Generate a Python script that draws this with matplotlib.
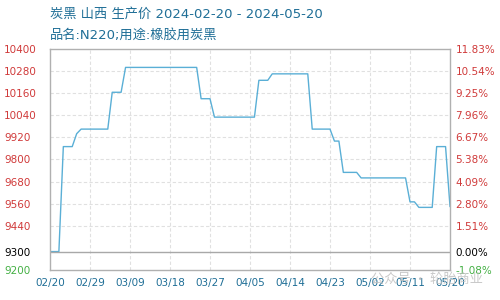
import pandas as pd
import matplotlib.pyplot as plt
import matplotlib.dates as mdates

plt.rcParams['font.family'] = ['DejaVu Sans']

# daily price, 2024-02-20 .. 2024-05-20
start = '2024-02-20'
prices = ([9300] * 3 + [9870] * 3 + [9940] + [9965] * 7 + [10165] * 3
          + [10300] * 17 + [10130] * 3 + [10030] * 10 + [10230] * 3
          + [10265] * 9 + [9965] * 5 + [9900] * 2 + [9730] * 4
          + [9700] * 11 + [9570] * 2 + [9540] * 4 + [9870] * 3 + [9545])
base = 9300
ytick_vals = [10400, 10280, 10160, 10040, 9920, 9800, 9680, 9560, 9440, 9300, 9200]
xtick_labels = ['02/20', '02/29', '03/09', '03/18', '03/27', '04/05',
                '04/14', '04/23', '05/02', '05/11', '05/20']

dates = pd.date_range(start, periods=len(prices), freq='D')
xticks = pd.date_range(start, periods=len(xtick_labels), freq='9D')

fig = plt.figure(figsize=(5, 3), dpi=100)
ax = fig.add_axes([0.1, 0.1, 0.8, 0.7367])

ax.plot(dates, prices, color='#5aafd6', linewidth=1.0)
ax.axhline(base, color='#a8a8a8', linewidth=1.0)

ax.set_xlim(dates[0], dates[-1])
ax.set_ylim(9200, 10400)

ax.set_xticks(xticks)
ax.set_xticklabels(xtick_labels, color='#1f6e96', fontsize=7.5)
ax.tick_params(axis='x', length=0, pad=6)

ax.set_yticks(ytick_vals)
ax.set_yticklabels([str(v) for v in ytick_vals], fontsize=7.5, ha='left')
ax.tick_params(axis='y', length=0, pad=33)

def label_color(v):
    if v == base:
        return 'black'
    if v < base:
        return '#44b044'
    return '#d03a3a'

for lab, v in zip(ax.get_yticklabels(), ytick_vals):
    lab.set_color(label_color(v))

grid_vals = [v for v in ytick_vals if v > 9400 and v < 10400]
for v in grid_vals:
    ax.axhline(v, color='#e0e0e0', linewidth=0.8, linestyle=(0, (3, 2)), zorder=0)
for d in xticks[1:-1]:
    ax.axvline(d, color='#e0e0e0', linewidth=0.8, linestyle=(0, (3, 2)), zorder=0)

for s in ax.spines.values():
    s.set_color('#b0b0b0')
    s.set_linewidth(1.0)

ax2 = ax.twinx()
ax2.set_ylim(9200, 10400)
ax2.set_yticks(ytick_vals)
ax2.set_yticklabels(['%.2f%%' % ((v - base) / base * 100) for v in ytick_vals],
                    fontsize=7.5)
ax2.tick_params(axis='y', length=0, pad=4)
for lab, v in zip(ax2.get_yticklabels(), ytick_vals):
    lab.set_color(label_color(v))
for s in ax2.spines.values():
    s.set_visible(False)

title_font = ['DejaVu Sans', 'Noto Sans CJK SC']
cjk = ['Noto Sans CJK SC', 'DejaVu Sans']
fig.text(0.1, 0.953, '炭黑 山西 生产价 2024-02-20 - 2024-05-20', color='#1f6e96',
         fontsize=9.5, family=title_font, va='center')
fig.text(0.1, 0.883, '品名:N220;用途:橡胶用炭黑', color='#1f6e96',
         fontsize=9.5, family=title_font, va='center')
fig.text(0.966, 0.07, '公众号 · 轮胎商业', color='#c0c0c0', alpha=0.85,
         fontsize=9.5, family=cjk, ha='right', va='center')

fig.savefig('out.png', dpi=100)
